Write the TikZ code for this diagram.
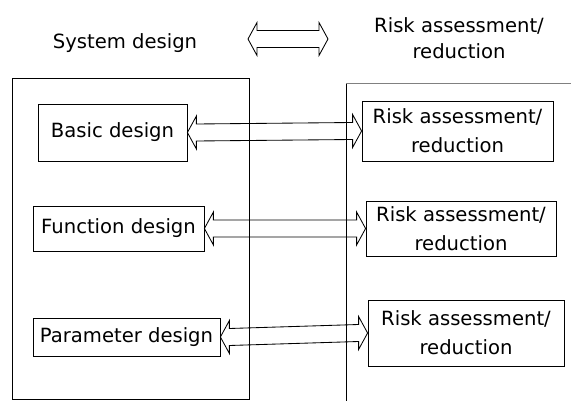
\documentclass[tikz,border=0pt]{standalone}
\usepackage{fontspec}
\setmainfont{DejaVu Sans}
\usetikzlibrary{calc}
\tikzset{
  box/.style={draw, line width=0.8pt, inner sep=0pt, align=center,
    font=\fontsize{19.6}{29}\selectfont},
  lbl/.style={inner sep=0pt, align=center, font=\fontsize{19.6}{26}\selectfont},
  frame/.style={line width=0.8pt},
  blockarrow/.style={line width=0.85pt, line join=miter, to path={
    let \p1=(\tikztostart), \p2=(\tikztotarget) in
    (\p1) -- (\x1+9pt,\y1+16.5pt) -- (\x1+9pt,\y1+8.5pt)
    -- (\x2-9pt,\y2+8.5pt) -- (\x2-9pt,\y2+16.5pt) -- (\p2)
    -- (\x2-9pt,\y2-16.5pt) -- (\x2-9pt,\y2-8.5pt)
    -- (\x1+9pt,\y1-8.5pt) -- (\x1+9pt,\y1-16.5pt) -- cycle}}
}
\begin{document}
\begin{tikzpicture}[x=1pt,y=-1pt]
\useasboundingbox (0,0) rectangle (571,401);
% frames
\draw[frame] (12.5,78) rectangle (249,399.5);
\draw[frame] (346,401) -- (346,83.5);
\draw[frame, gray] (346,83.5) -- (571,83.5);
% headings
\node[lbl] (sys) at (125,43) {System design};
\node[lbl] (risk) at (459,38) {Risk assessment/\\reduction};
\coordinate (ta) at (248,39);
\coordinate (tb) at (328,39);
\draw[blockarrow] (ta) to (tb);
% left boxes
\node[box, minimum width=149pt, minimum height=57pt] (bd) at (112.5,132.5) {Basic design};
\node[box, minimum width=171pt, minimum height=45pt] (fd) at (118.5,228.5) {Function design};
\node[box, minimum width=187pt, minimum height=38pt] (pd) at (126.5,337) {Parameter design};
% right boxes
\node[box, minimum width=191pt, minimum height=60pt] (r1) at (457.5,131) {Risk assessment/\\reduction};
\node[box, minimum width=190pt, minimum height=55pt] (r2) at (461,228.5) {Risk assessment/\\reduction};
\node[box, minimum width=196pt, minimum height=66pt] (r3) at (466,333) {Risk assessment/\\reduction};
% arrows
\draw[blockarrow] (bd.east) to (r1.west);
\draw[blockarrow] (fd.east) to (r2.west);
\draw[blockarrow] (pd.east) to (r3.west);
\end{tikzpicture}
\end{document}
